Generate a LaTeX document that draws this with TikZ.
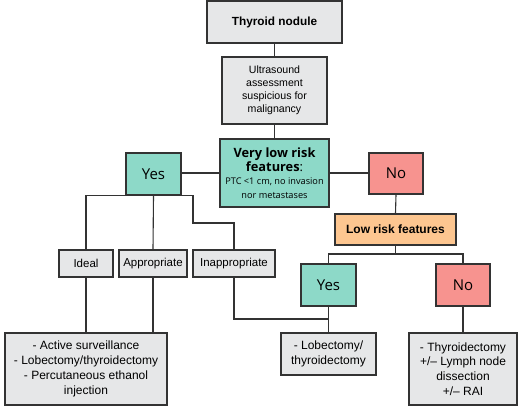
\documentclass[tikz,border=0pt]{standalone}
\usepackage{fontspec}
\setmainfont{Liberation Sans}
\newfontfamily\hum{Open Sans}
\definecolor{boxgray}{HTML}{E6E7E8}
\definecolor{edge}{HTML}{333333}
\definecolor{teal}{HTML}{8DD9C8}
\definecolor{pinkno}{HTML}{F7938F}
\definecolor{orangelow}{HTML}{FDC690}
\tikzset{
  base/.style={draw=edge, line width=1.4pt, rectangle, align=center, inner sep=1pt, anchor=center},
  graybox/.style={base, fill=boxgray},
  tealbox/.style={base, fill=teal},
  pinkbox/.style={base, fill=pinkno},
  orangebox/.style={base, fill=orangelow},
  conn/.style={draw=edge, line width=1.1pt},
}
\begin{document}
\begin{tikzpicture}[x=1pt,y=-1pt]
\useasboundingbox (0,0) rectangle (522,413);
\node[graybox, minimum width=135pt, minimum height=42pt, font=\fontsize{11.8}{13}\selectfont\bfseries] (thy) at (274.5,22) {Thyroid nodule};
\node[graybox, minimum width=105pt, minimum height=67pt, font=\fontsize{10.6}{13}\selectfont] (us) at (274.5,90.5) {Ultrasound\\assessment\\suspicious for\\malignancy};
\node[tealbox, minimum width=109pt, minimum height=68pt, font=\hum\fontsize{12.8}{14.5}\selectfont] (vlr) at (274.5,173) {\bfseries Very low risk\\\bfseries features\mdseries:\\[-2pt]\fontsize{9.2}{11.7}\selectfont PTC <1 cm, no invasion\\\fontsize{9.2}{11.7}\selectfont nor metastases};
\node[tealbox, minimum width=55pt, minimum height=42pt, font=\hum\fontsize{15}{17}\selectfont] (yes1) at (153.5,174) {Yes};
\node[pinkbox, minimum width=54pt, minimum height=41pt, font=\hum\fontsize{15}{17}\selectfont] (no1) at (396,173.5) {No};
\node[orangebox, minimum width=121pt, minimum height=31pt, font=\fontsize{12}{13}\selectfont\bfseries] (low) at (395.5,229.5) {Low risk features};
\node[graybox, minimum width=54pt, minimum height=27pt, font=\fontsize{11.5}{13}\selectfont] (ideal) at (86,263.5) {Ideal};
\node[graybox, minimum width=68pt, minimum height=27pt, font=\fontsize{11.5}{13}\selectfont] (approp) at (153,263.5) {Appropriate};
\node[graybox, minimum width=82pt, minimum height=27pt, font=\fontsize{11.5}{13}\selectfont] (inapp) at (234,263.5) {Inappropriate};
\node[tealbox, minimum width=55pt, minimum height=42pt, font=\hum\fontsize{15}{17}\selectfont] (yes2) at (328.5,285) {Yes};
\node[pinkbox, minimum width=54pt, minimum height=42pt, font=\hum\fontsize{15}{17}\selectfont] (no2) at (463,285) {No};
\node[graybox, minimum width=162pt, minimum height=72pt, font=\fontsize{12}{14.8}\selectfont] (bl) at (86,369) {- Active surveillance\\- Lobectomy/thyroidectomy\\- Percutaneous ethanol\\injection};
\node[graybox, minimum width=95pt, minimum height=42pt, font=\fontsize{12}{14.8}\selectfont] (lob) at (328.5,354) {- Lobectomy/\\thyroidectomy};
\node[graybox, minimum width=108pt, minimum height=72pt, font=\fontsize{12}{14.8}\selectfont] (thx) at (463,369) {- Thyroidectomy\\+/– Lymph node\\dissection\\+/– RAI};
\coordinate (lowsplit) at (395.5,254);
\coordinate (mj) at (328.5,319);
\coordinate (ybend) at (193,223);
\draw[conn] (thy.south) -- (us.north);
\draw[conn] (us.south) -- (vlr.north);
\draw[conn] (yes1.east |- vlr.west) -- (vlr.west);
\draw[conn] (vlr.east) -- (no1.west |- vlr.east);
\draw[conn] (no1.south) -- (low.north);
\draw[conn] (low.south) -- (lowsplit);
\draw[conn] (lowsplit) -| (yes2.north);
\draw[conn] (lowsplit) -| (no2.north);
\draw[conn] (ideal.north) |- (yes1.south);
\draw[conn] (yes1.south) -- (approp.north);
\draw[conn] (yes1.south) -| (ybend) -| (inapp.north);
\draw[conn] (ideal.south) -- (bl.north -| ideal.south);
\draw[conn] (approp.south) -- (bl.north -| approp.south);
\draw[conn] (inapp.south) |- (mj);
\draw[conn] (yes2.south) -- (lob.north);
\draw[conn] (no2.south) -- (thx.north);
\end{tikzpicture}
\end{document}
